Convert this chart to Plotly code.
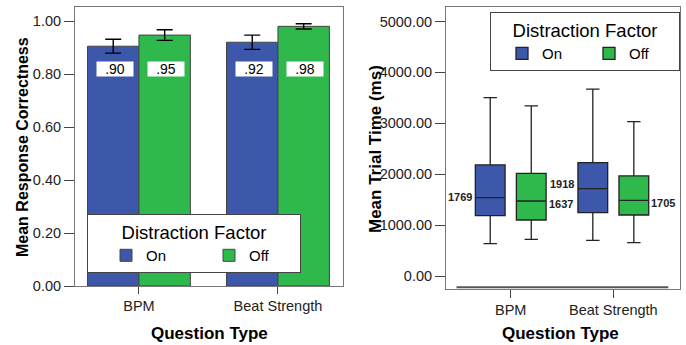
import plotly.graph_objects as go

# ---------------- data ----------------
categories = ["BPM", "Beat Strength"]
series_names = ["On", "Off"]

# left: mean response correctness
correct_on = [0.905, 0.92]
correct_off = [0.947, 0.98]
err_on = [0.026, 0.027]
err_off = [0.02, 0.01]
label_on = [".90", ".92"]
label_off = [".95", ".98"]

# right: trial time box statistics (ms)
time_on_low = [636, 701]
time_on_q1 = [1186, 1245]
time_on_med = [1540, 1717]
time_on_q3 = [2182, 2228]
time_on_high = [3506, 3670]
time_off_low = [721, 655]
time_off_q1 = [1101, 1199]
time_off_med = [1474, 1488]
time_off_q3 = [2018, 1966]
time_off_high = [3342, 3034]
mean_on = [1769, 1918]
mean_off = [1637, 1705]

y_ticks_left = [0.0, 0.2, 0.4, 0.6, 0.8, 1.0]
y_ticks_right = [0, 1000, 2000, 3000, 4000, 5000]

BLUE = "#3d57ab"
GREEN = "#2fb84b"
FONT = "Liberation Sans, Arial, sans-serif"
W, H = 686, 345

fig = go.Figure()

# ---- bars ----
fig.add_trace(go.Bar(
    x=categories, y=correct_on, name=series_names[0], marker=dict(color=BLUE, line=dict(color="#444", width=1)),
    error_y=dict(type="data", array=err_on, color="black", thickness=1.4, width=8),
    xaxis="x", yaxis="y", legend="legend", legendwidth=40))
fig.add_trace(go.Bar(
    x=categories, y=correct_off, name=series_names[1], marker=dict(color=GREEN, line=dict(color="#444", width=1)),
    error_y=dict(type="data", array=err_off, color="black", thickness=1.4, width=8),
    xaxis="x", yaxis="y", legend="legend", legendwidth=46))

# ---- boxes ----
fig.add_trace(go.Box(
    x=categories, lowerfence=time_on_low, q1=time_on_q1, median=time_on_med, q3=time_on_q3,
    upperfence=time_on_high, name=series_names[0], fillcolor=BLUE, line=dict(color="#222", width=1.3),
    whiskerwidth=0.45, boxpoints=False, xaxis="x2", yaxis="y2", legend="legend2", legendwidth=31))
fig.add_trace(go.Box(
    x=categories, lowerfence=time_off_low, q1=time_off_q1, median=time_off_med, q3=time_off_q3,
    upperfence=time_off_high, name=series_names[1], fillcolor=GREEN, line=dict(color="#222", width=1.3),
    whiskerwidth=0.45, boxpoints=False, xaxis="x2", yaxis="y2", legend="legend2", legendwidth=45))

annotations = []
# value labels on bars
bar_off = 25.7
for i, c in enumerate(categories):
    for txt, sh in ((label_on[i], -bar_off), (label_off[i], bar_off)):
        annotations.append(dict(x=c, y=0.82, xref="x", yref="y", text=txt, showarrow=False,
                                xshift=sh + 1.5, bgcolor="white", width=36, height=14, borderpad=0,
                                xanchor="center", yanchor="middle",
                                font=dict(size=14, color="black", family=FONT)))
# mean labels on boxes
for i, c in enumerate(categories):
    annotations.append(dict(x=c, y=time_on_med[i], xref="x2", yref="y2", text=str(mean_on[i]),
                            showarrow=False, xanchor="right", yanchor="middle", xshift=-37, yshift=1 + 4 * i,
                            font=dict(size=11, color="#222", family=FONT, weight="bold")))
    annotations.append(dict(x=c, y=time_off_med[i], xref="x2", yref="y2", text=str(mean_off[i]),
                            showarrow=False, xanchor="left", yanchor="middle", xshift=36, yshift=-3,
                            font=dict(size=11, color="#222", family=FONT, weight="bold")))

# axis titles
bold17 = dict(size=17, color="black", family=FONT, weight="bold")
annotations += [
    dict(x=22 / W, y=1 - 147 / H, xref="paper", yref="paper", text="Mean Response Correctness",
         textangle=-90, showarrow=False, xanchor="center", yanchor="middle",
         font=dict(size=16, color="black", family=FONT, weight="bold")),
    dict(x=209 / W, y=1 - 333 / H, xref="paper", yref="paper", text="Question Type",
         showarrow=False, xanchor="center", yanchor="middle", font=bold17),
    dict(x=375 / W, y=1 - 149 / H, xref="paper", yref="paper", text="Mean Trial Time (ms)",
         textangle=-90, showarrow=False, xanchor="center", yanchor="middle", font=bold17),
    dict(x=560 / W, y=1 - 333 / H, xref="paper", yref="paper", text="Question Type",
         showarrow=False, xanchor="center", yanchor="middle", font=bold17),
]

tick_font = dict(size=14.5, color="#222", family=FONT)
axis_common = dict(showgrid=False, zeroline=False, showline=True, mirror=True, linecolor="#777",
                   linewidth=1, ticks="outside", tickcolor="#444", tickfont=tick_font, automargin=False)

legend_common = dict(orientation="h", xanchor="left", yanchor="top",
                     bgcolor="white", bordercolor="#444", borderwidth=1,
                     title=dict(text="Distraction Factor", side="top center",
                                font=dict(size=18.5, color="black", family=FONT)),
                     font=dict(size=15, color="black", family=FONT),
                     entrywidthmode="pixels", traceorder="normal")

fig.update_layout(
    width=W, height=H, margin=dict(l=0, r=0, t=0, b=0, autoexpand=False),
    paper_bgcolor="white", plot_bgcolor="white",
    font=dict(family=FONT),
    barmode="group", bargap=0.26, bargroupgap=0,
    boxmode="group", boxgap=0.2, boxgroupgap=0.275,
    xaxis=dict(domain=[75 / W, 343 / W], anchor="y", type="category",
               range=[-0.46, 1.468], ticklen=7, **axis_common),
    yaxis=dict(domain=[1 - 286 / H, 1 - 7 / H], anchor="x", range=[0, 1.053],
               tickvals=y_ticks_left, tickformat=".2f", ticklen=10, **axis_common),
    xaxis2=dict(domain=[446 / W, 680 / W], anchor="y2", type="category",
                range=[-0.631, 1.65], ticklen=8, **axis_common),
    yaxis2=dict(domain=[1 - 289 / H, 1 - 7 / H], anchor="x2", range=[-255, 5285],
                tickvals=y_ticks_right, tickformat=".2f", ticklen=10, **axis_common),
    legend=dict(x=87 / W, y=1 - 214 / H, indentation=18, **legend_common),
    legend2=dict(x=490 / W, y=1 - 12 / H, indentation=11, **legend_common),
    shapes=[dict(type="line", xref="x2 domain", yref="y2 domain", x0=0.045, x1=0.95, y0=0.006, y1=0.006,
                 line=dict(color="#555", width=2))],
    annotations=annotations,
    showlegend=True,
)

fig.write_html("out.html", post_script="document.body.style.margin='0px';",
               config={"displayModeBar": False})
